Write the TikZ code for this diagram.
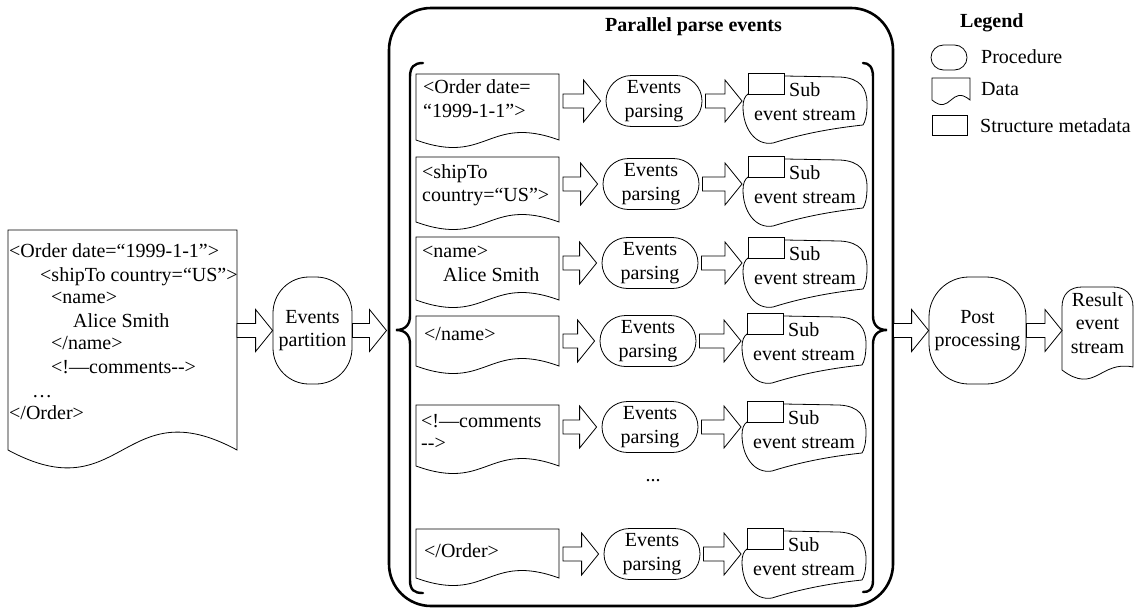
\documentclass[tikz,border=0pt]{standalone}
\usepackage{fontspec}
\setmainfont{Liberation Serif}
\usetikzlibrary{calc,shapes.misc}
\newcommand\fs{\fontsize{20}{23.5}\selectfont}
% block arrow: from node, to node, node giving y, gap at start, gap at end
\newcommand\blk[5]{%
  \draw[barrow] let \p1=(#1.east), \p2=(#2.west), \p3=(#3.center) in
  (\x1+#4pt,\y3+7pt) -- (\x2-#5pt-17pt,\y3+7pt) -- (\x2-#5pt-17pt,\y3+21pt) -- (\x2-#5pt,\y3)
  -- (\x2-#5pt-17pt,\y3-21pt) -- (\x2-#5pt-17pt,\y3-7pt) -- (\x1+#4pt,\y3-7pt) -- cycle;}
% document shape with wavy bottom drawn around a node
\newcommand\docshape[2][26]{%
  \draw[thinl] (#2.south west) -- (#2.north west) -- (#2.north east) -- (#2.south east)
  .. controls ($(#2.south)+(0,-#1)$) and ($(#2.south)+(0,#1)$) .. (#2.south west) -- cycle;}
% sub event stream shape around a node
\newcommand\subshape[1]{%
  \draw[thinl, shift={(#1.center)}] (-20,-32) -- (35,-31) .. controls (55,-30) and (62,-20) .. (62,-4)
  .. controls (62,8) and (60,14) .. (58,17) .. controls (30,20) and (0,25) .. (-32,35)
  .. controls (-50,38) and (-62,20) .. (-62,-1) .. controls (-62,-8) and (-60,-12) .. (-57,-14);
  \draw[thinl, shift={(#1.center)}] (-57,-14) rectangle (-21,-35);}
\tikzset{
  thinl/.style={line width=0.8pt},
  barrow/.style={line width=0.8pt, fill=white},
  every node/.style={font=\fs, inner sep=0pt},
  txt/.style={anchor=base west},
  holder/.style={inner sep=0pt, outer sep=0pt},
  proc/.style={draw, line width=0.8pt, rounded rectangle, minimum width=96, minimum height=51, align=center},
  bigproc/.style={draw, line width=0.8pt, align=center, minimum height=107},
  subnode/.style={holder, minimum width=124, minimum height=70},
  datanode/.style={holder, minimum width=143},
  brace/.style={line width=2.4pt, line cap=round},
}
\begin{document}
\begin{tikzpicture}[x=1pt, y=-1pt]
\useasboundingbox (0,0) rectangle (1139,608);

% outer container
\node[draw, line width=2.6pt, rounded corners=42pt, minimum width=504, minimum height=598] (pbox) at (641,307) {};
\node[txt, font=\fs\bfseries] (title) at (605,31) {Parallel parse events};

% braces
\draw[brace] (423,63) .. controls (414,63) and (410,67) .. (410,77) -- (410,316)
  .. controls (410,325) and (405,330) .. (396,330) .. controls (405,330) and (410,335) .. (410,344)
  -- (410,580) .. controls (410,590) and (414,593) .. (423,593);
\draw[brace] (863,63) .. controls (869,63) and (873,67) .. (873,77) -- (873,316)
  .. controls (873,325) and (878,330) .. (887,330) .. controls (878,330) and (873,335) .. (873,344)
  -- (873,580) .. controls (873,590) and (869,592) .. (863,592);
\node[holder] (lbr) at (387,330) {};
\node[holder] (rbr) at (893,330) {};

% left document
\node[holder, minimum width=229, minimum height=220] (doc) at (122.5,340) {};
\docshape[62]{doc}
\node[txt] (dl1) at (9,257) {<Order date=“1999-1-1”>};
\node[txt] (dl2) at (40,281) {<shipTo country=“US”>};
\node[txt] (dl3) at (51,303) {<name>};
\node[txt] (dl4) at (73,327) {Alice Smith};
\node[txt] (dl5) at (51,349) {</name>};
\node[txt] (dl6) at (51,373) {<!—comments\hbox{-}\hbox{-}>};
\node[txt] (dl7) at (32,397) {…};
\node[txt] (dl8) at (9,419) {</Order>};

% events partition
\node[bigproc, rounded corners=36pt, minimum width=79] (ep) at (312.5,330.5) {Events\\partition};
\blk{doc}{ep}{ep}{0}{0}
\blk{ep}{lbr}{ep}{0}{0}

% rows
\node[datanode, minimum height=66] (d1) at (487.5,107) {};
\node[datanode, minimum height=65] (d2) at (487.5,189.5) {};
\node[datanode, minimum height=63] (d3) at (487.5,268.5) {};
\node[datanode, minimum height=50] (d4) at (487.5,341) {};
\node[datanode, minimum height=61] (d5) at (487.5,435.5) {};
\node[datanode, minimum height=49] (d6) at (487.5,553.5) {};
\foreach \n in {d1,d2,d3,d4,d5,d6} {\docshape{\n}}

\node[txt] (t1a) at (423,93) {<Order date=};
\node[txt] (t1b) at (423,117) {“1999-1-1”>};
\node[txt] (t2a) at (422,178) {<shipTo};
\node[txt] (t2b) at (422,201) {country=“US”>};
\node[txt] (t3a) at (422,257) {<name>};
\node[txt] (t3b) at (443,281) {Alice Smith};
\node[txt] (t4a) at (424,340) {</name>};
\node[txt] (t5a) at (421,427) {<!—comments};
\node[txt] (t5b) at (421,449) {\hbox{-}\hbox{-}>};
\node[txt] (t6a) at (424,557) {</Order>};

\node[proc] (p1) at (654,101) {Events\\parsing};
\node[proc] (p2) at (651,184) {Events\\parsing};
\node[proc] (p3) at (650,263) {Events\\parsing};
\node[proc] (p4) at (648,341) {Events\\parsing};
\node[proc] (p5) at (650,427) {Events\\parsing};
\node[proc] (p6) at (652,554) {Events\\parsing};
\node[anchor=base] (dots) at (653,481) {...};

\node[subnode] (s1) at (805,108) {};
\node[subnode] (s2) at (805,191) {};
\node[subnode] (s3) at (805,272) {};
\node[subnode] (s4) at (804,348) {};
\node[subnode] (s5) at (804,436) {};
\node[subnode] (s6) at (804,563) {};
\foreach \n in {s1,s2,s3,s4,s5,s6} {
  \subshape{\n}
  \node[txt] (\n a) at ($(\n.center)+(-16,-12)$) {Sub};
  \node[anchor=base] (\n b) at ($(\n.center)+(0,12)$) {event stream};
}
\foreach \i in {1,...,6} {
  \blk{d\i}{p\i}{p\i}{4}{5}
  \blk{p\i}{s\i}{p\i}{3}{1}
}

% post processing and result
\node[bigproc, rounded corners=40pt, minimum width=97] (post) at (977.5,330.5) {Post\\processing};
\node[holder, minimum width=71, minimum height=83] (res) at (1097.5,328.5) {};
\draw[thinl] (1062,370) -- (1062,307) .. controls (1062,294) and (1070,287) .. (1082,287) -- (1113,287)
  .. controls (1125,287) and (1133,294) .. (1133,307) -- (1133,367)
  .. controls (1100,360) and (1095,395) .. (1062,370) -- cycle;
\node[align=center] (rest) at (1097.5,323) {Result\\event\\stream};
\blk{rbr}{post}{post}{0}{0}
\blk{post}{res}{post}{0}{0}

% legend
\node[txt, font=\fs\bfseries] (legt) at (960,27) {Legend};
\node[draw, line width=0.8pt, rounded rectangle, minimum width=36, minimum height=25] (lp) at (949,57.5) {};
\node[txt] (lpt) at (981,63) {Procedure};
\node[holder, minimum width=38, minimum height=22] (ld) at (951,89) {};
\docshape[16]{ld}
\node[txt] (ldt) at (981,95) {Data};
\node[draw, line width=0.8pt, minimum width=35, minimum height=20] (lr) at (949.5,125) {};
\node[txt] (lrt) at (980,132) {Structure metadata};
\end{tikzpicture}
\end{document}
